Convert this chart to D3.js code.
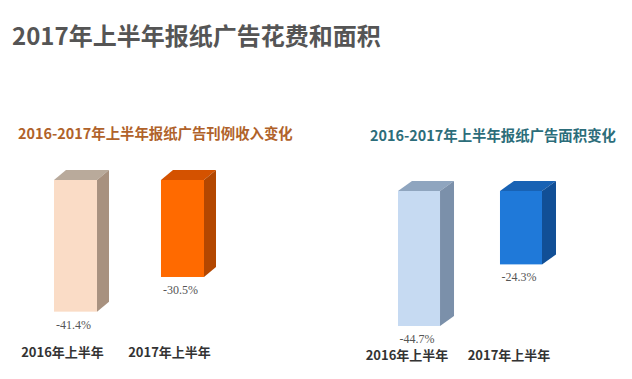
<!DOCTYPE html>
<html><head><meta charset="utf-8">
<script src="https://cdn.jsdelivr.net/npm/d3@7"></script>
<style>
html,body{margin:0;padding:0;background:#fff;}
svg{display:block;font-family:"Noto Sans CJK SC","Noto Sans",sans-serif;}
</style></head>
<body>
<svg id="c" width="632" height="379"></svg>
<script>
const mainTitle = "2017年上半年报纸广告花费和面积";
const categories = ["2016年上半年", "2017年上半年"];
const revenueTitle = "2016-2017年上半年报纸广告刊例收入变化";
const revenueValues = [-41.4, -30.5];
const areaTitle = "2016-2017年上半年报纸广告面积变化";
const areaValues = [-44.7, -24.3];

const svg = d3.select("#c");
svg.append("text").attr("x", 12).attr("y", 45)
  .attr("font-size", 24).attr("font-weight", "bold").attr("fill", "#555")
  .text(mainTitle);

function panel(cfg) {
  const g = svg.append("g");
  g.append("text").attr("x", cfg.titleX).attr("y", cfg.titleY)
    .attr("font-size", 14.4).attr("font-weight", "bold").attr("fill", cfg.titleColor)
    .text(cfg.title);
  const x = d3.scaleBand().domain(categories).range(cfg.xRange)
    .paddingInner(cfg.padIn).paddingOuter(0);
  const y = d3.scaleLinear().domain([0, -50]).range([cfg.base, cfg.base + cfg.pxPer50]);
  const dx = cfg.dx, dy = cfg.dy;
  const bars = g.selectAll("g.bar").data(cfg.values.map((v, i) => ({v, c: categories[i], i})))
    .enter().append("g");
  bars.append("path").attr("fill", d => cfg.colors[d.i].top)
    .attr("d", d => {
      const x0 = x(d.c), x1 = x0 + x.bandwidth(), yt = y(0);
      return `M${x0},${yt}L${x0+dx},${yt-dy}L${x1+dx},${yt-dy}L${x1},${yt}Z`;
    });
  bars.append("path").attr("fill", d => cfg.colors[d.i].side)
    .attr("d", d => {
      const x1 = x(d.c) + x.bandwidth(), yt = y(0), yb = y(d.v);
      return `M${x1},${yt}L${x1+dx},${yt-dy}L${x1+dx},${yb-dy}L${x1},${yb}Z`;
    });
  bars.append("rect").attr("fill", d => cfg.colors[d.i].front)
    .attr("x", d => x(d.c)).attr("y", y(0))
    .attr("width", x.bandwidth()).attr("height", d => y(d.v) - y(0));
  bars.append("text").attr("text-anchor", "middle")
    .attr("x", d => x(d.c) + x.bandwidth() / 2 - 2)
    .attr("y", d => y(d.v) + cfg.valOff)
    .attr("font-family", "'Liberation Serif','DejaVu Serif',serif")
    .attr("font-size", 12).attr("fill", "#555")
    .text(d => d.v.toFixed(1) + "%");
  g.selectAll("text.cat").data(categories).enter().append("text")
    .attr("text-anchor", "middle")
    .attr("x", d => x(d) + x.bandwidth() / 2 + cfg.catOff)
    .attr("y", cfg.catY)
    .attr("font-size", 13).attr("font-weight", "bold").attr("fill", "#333")
    .text(d => d);
}

panel({
  title: revenueTitle, titleX: 18, titleY: 139, titleColor: "#b0622a",
  values: revenueValues, xRange: [54, 204], padIn: 0.598,
  base: 180, pxPer50: 159, dx: 12, dy: 10, valOff: 17, catOff: -13, catY: 357,
  colors: [
    {front: "#fadcc6", top: "#b9aa9b", side: "#a8917f"},
    {front: "#ff6a00", top: "#d45200", side: "#b34700"}
  ]
});
panel({
  title: areaTitle, titleX: 370, titleY: 141, titleColor: "#2c6d7a",
  values: areaValues, xRange: [398, 542], padIn: 0.588,
  base: 191, pxPer50: 151, dx: 14, dy: 10, valOff: 17, catOff: -12, catY: 360,
  colors: [
    {front: "#c6daf2", top: "#8fa5bf", side: "#7b90aa"},
    {front: "#1f79d9", top: "#1862b4", side: "#114f96"}
  ]
});
</script>
</body></html>
